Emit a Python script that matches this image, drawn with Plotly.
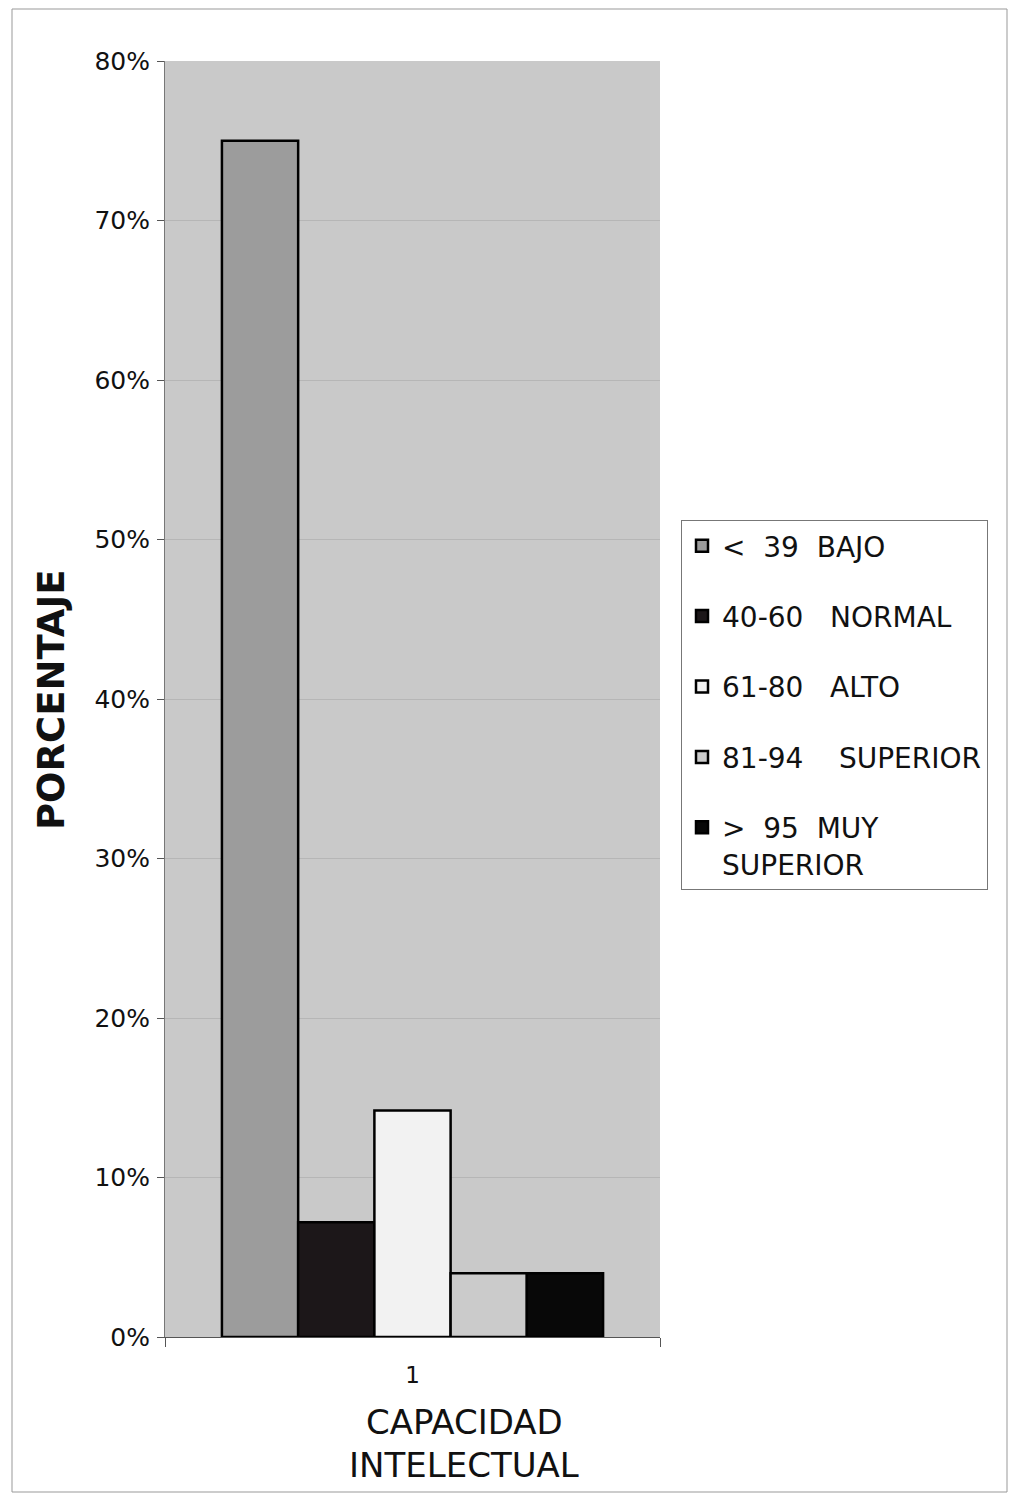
import plotly.graph_objects as go

categories = ["1"]
series_names = ["<\u00a0\u00a039\u00a0\u00a0BAJO", "40-60\u00a0\u00a0\u00a0NORMAL", "61-80\u00a0\u00a0\u00a0ALTO",
                "81-94\u00a0\u00a0\u00a0\u00a0SUPERIOR", ">\u00a0\u00a095\u00a0\u00a0MUY<br>SUPERIOR"]
series_values = [0.75, 0.072, 0.142, 0.04, 0.04]
series_colors = ["#9c9c9c", "#1c1719", "#f2f2f2", "#cbcbcb", "#080808"]
y_ticks = [0, 0.1, 0.2, 0.3, 0.4, 0.5, 0.6, 0.7, 0.8]
y_title = "PORCENTAJE"
x_title_lines = ["CAPACIDAD", "INTELECTUAL"]

# page body has an 8px margin; compensate so the figure lands where the reference is
OFF = 8
W, H = 1000, 1485
L, T = 165 - OFF, 61 - OFF
PW, PH = 495, 1276
R = W - L - PW
B = H - T - PH

fig = go.Figure()
for i, (name, val, col) in enumerate(zip(series_names, series_values, series_colors)):
    fig.add_trace(go.Bar(
        x=categories, y=[val], name=name, legendgroup=f"g{i}",
        marker=dict(color=col, line=dict(color="#000000", width=2.5)),
    ))


def px_to_paper_x(px):
    return (px - OFF - L) / PW


def px_to_paper_y(py):
    return (T + PH - (py - OFF)) / PH


annotations = [
    dict(text=y_title, xref="paper", yref="paper",
         x=px_to_paper_x(51), y=px_to_paper_y(700), xanchor="center", yanchor="middle",
         textangle=-90, showarrow=False,
         font=dict(size=37, weight="bold", color="#111111")),
]
for line, ypx in zip(x_title_lines, [1422, 1465]):
    annotations.append(dict(
        text=line, xref="paper", yref="paper",
        x=px_to_paper_x(464), y=px_to_paper_y(ypx), xanchor="center", yanchor="middle",
        showarrow=False, font=dict(size=34, color="#111111")))

fig.update_layout(
    width=W, height=H,
    margin=dict(l=L, r=R, t=T, b=B),
    paper_bgcolor="white",
    plot_bgcolor="#c9c9c9",
    barmode="group",
    bargap=0.23,
    bargroupgap=0,
    font=dict(family="DejaVu Sans, Verdana, sans-serif", color="#111111"),
    showlegend=True,
    legend=dict(
        x=px_to_paper_x(681), y=px_to_paper_y(520), xanchor="left", yanchor="top",
        bgcolor="white", bordercolor="#777777", borderwidth=1,
        font=dict(size=28, color="#111111"),
        traceorder="grouped", tracegroupgap=31, valign="top",
        itemwidth=30,
    ),
    xaxis=dict(
        type="category",
        tickson="boundaries", ticks="outside", ticklen=9, tickcolor="#555555",
        showline=True, linecolor="#555555", linewidth=1,
        tickfont=dict(size=23), ticklabelstandoff=17,
    ),
    yaxis=dict(
        range=[0, 0.8], tickvals=y_ticks, tickformat=".0%",
        ticks="outside", ticklen=7, tickcolor="#555555",
        showline=True, linecolor="#777777", linewidth=1,
        showgrid=True, gridcolor="#b6b6b6", gridwidth=1,
        tickfont=dict(size=25), ticklabelstandoff=2,
        zeroline=False,
    ),
    annotations=annotations,
    shapes=[dict(
        type="rect", xref="paper", yref="paper",
        x0=px_to_paper_x(12), x1=px_to_paper_x(1007),
        y0=px_to_paper_y(1492), y1=px_to_paper_y(9),
        line=dict(color="#999999", width=1), fillcolor="rgba(0,0,0,0)", layer="below",
    )],
)

fig.write_html("out.html")
